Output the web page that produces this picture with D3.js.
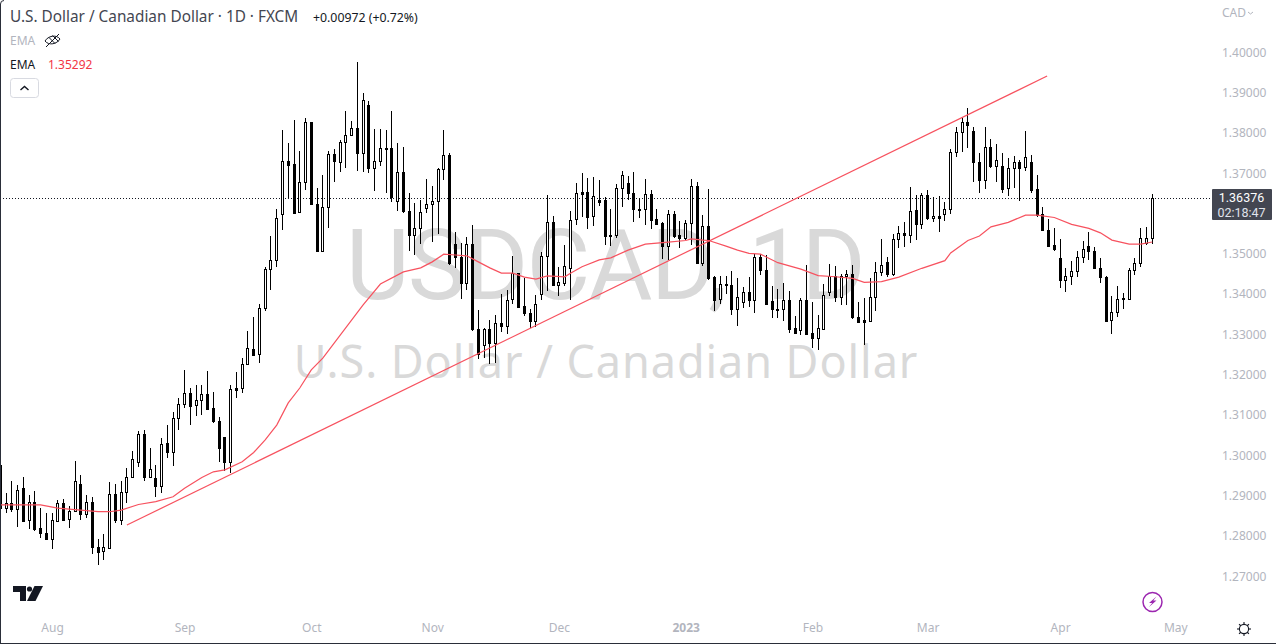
<!DOCTYPE html>
<html><head><meta charset="utf-8">
<script src="https://cdn.jsdelivr.net/npm/d3@7"></script>
<style>html,body{margin:0;padding:0;background:#fff;overflow:hidden}svg{display:block}text{font-family:"Noto Sans",Roboto,sans-serif}</style>
</head><body><svg id="c" width="1276" height="644"></svg>
<script>
const opens=[1.2976,1.2868,1.2881,1.2866,1.2918,1.2839,1.2883,1.2819,1.2806,1.2793,
1.2838,1.2881,1.2841,1.2863,1.2928,1.2854,1.2883,1.2772,1.2762,1.2771,
1.2903,1.2839,1.2908,1.2945,1.2983,1.3052,1.2947,1.2943,1.2923,1.3030,
1.3007,1.3092,1.3127,1.3154,1.3124,1.3136,1.3151,1.3117,1.3086,1.3045,
1.2984,1.3166,1.3166,1.3226,1.3263,1.3251,1.3365,1.3462,1.3484,1.3598,
1.3730,1.3722,1.3603,1.3677,1.3826,1.3623,1.3508,1.3615,1.3747,1.3727,
1.3777,1.3796,1.3811,1.3749,1.3868,1.3714,1.3730,1.3763,1.3762,1.3630,
1.3702,1.3605,1.3546,1.3563,1.3613,1.3623,1.3630,1.3710,1.3744,1.3524,
1.3491,1.3427,1.3524,1.3313,1.3273,1.3313,1.3278,1.3328,1.3322,1.3387,
1.3452,1.3370,1.3352,1.3334,1.3400,1.3494,1.3578,1.3422,1.3428,1.3464,
1.3586,1.3653,1.3653,1.3593,1.3633,1.3633,1.3546,1.3546,1.3663,1.3675,
1.3650,1.3611,1.3610,1.3648,1.3586,1.3576,1.3520,1.3598,1.3546,1.3540,
1.3576,1.3667,1.3476,1.3568,1.3442,1.3387,1.3424,1.3422,1.3362,1.3380,
1.3404,1.3385,1.3492,1.3461,1.3382,1.3363,1.3362,1.3385,1.3315,1.3310,
1.3385,1.3303,1.3290,1.3314,1.3404,1.3444,1.3392,1.3444,1.3449,1.3342,
1.3335,1.3334,1.3392,1.3454,1.3479,1.3449,1.3536,1.3551,1.3546,1.3608,
1.3573,1.3645,1.3590,1.3595,1.3598,1.3610,1.3752,1.3801,1.3826,1.3804,
1.3729,1.3682,1.3764,1.3719,1.3717,1.3663,1.3712,1.3729,1.3715,1.3729,
1.3660,1.3598,1.3558,1.3521,1.3489,1.3434,1.3444,1.3457,1.3491,1.3519,
1.3506,1.3464,1.3442,1.3335,1.3355,1.3388,1.3388,1.3459,1.3476,1.3527,1.3538];
const closes=[1.2868,1.2881,1.2866,1.2913,1.2838,1.2883,1.2818,1.2806,1.2793,1.2839,
1.2881,1.2840,1.2863,1.2936,1.2854,1.2883,1.2772,1.2761,1.2772,1.2903,
1.2839,1.2908,1.2945,1.2990,1.3052,1.2947,1.2965,1.2923,1.3027,1.3007,
1.3092,1.3127,1.3154,1.3123,1.3136,1.3151,1.3116,1.3086,1.3019,1.2984,
1.3164,1.3163,1.3227,1.3266,1.3250,1.3365,1.3462,1.3484,1.3588,1.3730,
1.3721,1.3602,1.3677,1.3826,1.3623,1.3508,1.3615,1.3747,1.3731,1.3777,
1.3796,1.3811,1.3749,1.3881,1.3714,1.3730,1.3762,1.3760,1.3642,1.3702,
1.3605,1.3546,1.3563,1.3603,1.3623,1.3630,1.3710,1.3744,1.3478,1.3491,
1.3427,1.3524,1.3313,1.3252,1.3313,1.3278,1.3328,1.3322,1.3385,1.3452,
1.3369,1.3352,1.3334,1.3375,1.3494,1.3578,1.3422,1.3429,1.3469,1.3585,
1.3650,1.3649,1.3592,1.3643,1.3629,1.3543,1.3543,1.3663,1.3695,1.3650,
1.3610,1.3610,1.3648,1.3585,1.3575,1.3520,1.3598,1.3544,1.3540,1.3576,
1.3667,1.3476,1.3568,1.3441,1.3386,1.3424,1.3422,1.3362,1.3392,1.3404,
1.3385,1.3491,1.3461,1.3375,1.3362,1.3361,1.3385,1.3314,1.3304,1.3385,
1.3302,1.3290,1.3315,1.3399,1.3444,1.3392,1.3444,1.3449,1.3342,1.3331,
1.3332,1.3392,1.3454,1.3471,1.3449,1.3536,1.3551,1.3546,1.3605,1.3573,
1.3645,1.3590,1.3595,1.3590,1.3610,1.3752,1.3801,1.3826,1.3820,1.3729,
1.3682,1.3764,1.3719,1.3732,1.3662,1.3712,1.3729,1.3714,1.3739,1.3659,
1.3596,1.3558,1.3520,1.3513,1.3434,1.3444,1.3457,1.3491,1.3511,1.3506,
1.3464,1.3442,1.3334,1.3355,1.3389,1.3390,1.3459,1.3476,1.3538,1.3538,1.36376];
const highs=[1.2976,1.2906,1.2935,1.2926,1.2945,1.2901,1.2911,1.2868,1.2856,1.2856,
1.2888,1.2891,1.2875,1.2986,1.2950,1.2901,1.2897,1.2792,1.2805,1.2934,
1.2928,1.2936,1.2969,1.3011,1.3060,1.3062,1.3017,1.2975,1.3042,1.3074,
1.3107,1.3141,1.3212,1.3168,1.3174,1.3174,1.3210,1.3158,1.3094,1.3046,
1.3174,1.3206,1.3241,1.3309,1.3343,1.3376,1.3468,1.3544,1.3611,1.3807,
1.3775,1.3832,1.3754,1.3836,1.3827,1.3663,1.3695,1.3754,1.3760,1.3782,
1.3854,1.3830,1.3976,1.3898,1.3878,1.3809,1.3809,1.3807,1.3854,1.3774,
1.3764,1.3650,1.3625,1.3633,1.3685,1.3667,1.3712,1.3806,1.3749,1.3553,
1.3526,1.3541,1.3572,1.3361,1.3315,1.3336,1.3348,1.3400,1.3410,1.3494,
1.3453,1.3439,1.3362,1.3397,1.3505,1.3646,1.3594,1.3468,1.3522,1.3606,
1.3675,1.3700,1.3687,1.3690,1.3683,1.3642,1.3610,1.3673,1.3705,1.3693,
1.3702,1.3638,1.3686,1.3658,1.3610,1.3580,1.3609,1.3605,1.3581,1.3584,
1.3686,1.3679,1.3596,1.3662,1.3445,1.3444,1.3444,1.3457,1.3439,1.3417,
1.3442,1.3500,1.3500,1.3497,1.3420,1.3412,1.3427,1.3408,1.3346,1.3390,
1.3472,1.3380,1.3347,1.3425,1.3474,1.3470,1.3450,1.3461,1.3472,1.3380,
1.3390,1.3439,1.3479,1.3536,1.3493,1.3549,1.3569,1.3580,1.3665,1.3646,
1.3650,1.3658,1.3640,1.3643,1.3628,1.3759,1.3814,1.3836,1.3861,1.3814,
1.3749,1.3814,1.3786,1.3772,1.3749,1.3737,1.3743,1.3733,1.3804,1.3745,
1.3695,1.3615,1.3586,1.3564,1.3536,1.3466,1.3481,1.3508,1.3532,1.3554,
1.3516,1.3489,1.3446,1.3395,1.3419,1.3402,1.3464,1.3489,1.3564,1.3566,1.3648];
const lows=[1.2856,1.2856,1.2860,1.2823,1.2835,1.2818,1.2811,1.2796,1.2791,1.2768,
1.2835,1.2839,1.2820,1.2862,1.2840,1.2845,1.2754,1.2729,1.2740,1.2769,
1.2833,1.2828,1.2882,1.2944,1.2972,1.2935,1.2946,1.2897,1.2906,1.2993,
1.2974,1.3063,1.3117,1.3075,1.3098,1.3100,1.3112,1.3079,1.2984,1.2962,
1.2955,1.3141,1.3155,1.3224,1.3249,1.3228,1.3359,1.3410,1.3468,1.3560,
1.3639,1.3601,1.3602,1.3659,1.3622,1.3504,1.3505,1.3565,1.3677,1.3704,
1.3714,1.3795,1.3706,1.3704,1.3700,1.3657,1.3718,1.3652,1.3629,1.3606,
1.3602,1.3508,1.3496,1.3525,1.3600,1.3530,1.3548,1.3684,1.3471,1.3466,
1.3389,1.3411,1.3309,1.3238,1.3241,1.3227,1.3228,1.3306,1.3301,1.3376,
1.3366,1.3346,1.3316,1.3319,1.3386,1.3408,1.3420,1.3395,1.3420,1.3385,
1.3572,1.3591,1.3562,1.3569,1.3619,1.3521,1.3519,1.3539,1.3617,1.3634,
1.3580,1.3588,1.3572,1.3562,1.3572,1.3486,1.3485,1.3540,1.3515,1.3534,
1.3522,1.3475,1.3470,1.3435,1.3359,1.3375,1.3400,1.3347,1.3322,1.3365,
1.3367,1.3352,1.3448,1.3373,1.3340,1.3340,1.3334,1.3304,1.3301,1.3299,
1.3299,1.3267,1.3261,1.3311,1.3395,1.3381,1.3373,1.3373,1.3337,1.3328,
1.3274,1.3332,1.3359,1.3446,1.3443,1.3445,1.3515,1.3518,1.3526,1.3534,
1.3561,1.3584,1.3580,1.3555,1.3582,1.3599,1.3739,1.3753,1.3762,1.3677,
1.3652,1.3662,1.3714,1.3679,1.3652,1.3644,1.3663,1.3632,1.3706,1.3650,
1.3592,1.3557,1.3518,1.3508,1.3414,1.3406,1.3423,1.3442,1.3478,1.3485,
1.3462,1.3428,1.3333,1.3301,1.3344,1.3362,1.3385,1.3448,1.3468,1.3523,1.3525];
const emaBars=[0,7,10,17,19,21,24,27,30,32,35,37,39,42,44,46,48,50,52,54,56,63,66,70,73,75,77,79,81,83,85,87,89,91,93,95,98,99,101,104,106,109,112,116,119,120,122,123,126,128,130,132,135,139,142,145,148,150,153,156,160,164,165,168,170,172,175,178,180,183,186,189,191,193,196,198,200];
const emaValues=[1.2877,1.2877,1.2869,1.2860,1.2860,1.2864,1.2878,1.2885,1.2897,1.2918,1.2945,1.2959,1.2964,1.2984,1.3007,1.3038,1.3075,1.3130,1.3167,1.3212,1.3241,1.3373,1.3425,1.3455,1.3465,1.3480,1.3499,1.3497,1.3495,1.3480,1.3465,1.3452,1.3452,1.3442,1.3437,1.3445,1.3443,1.3452,1.3468,1.3485,1.3490,1.3509,1.3524,1.3529,1.3533,1.3537,1.3534,1.3533,1.3519,1.3509,1.3501,1.3499,1.3478,1.3462,1.3446,1.3443,1.3439,1.3429,1.3431,1.3442,1.3464,1.3483,1.3502,1.3533,1.3544,1.3567,1.3578,1.3596,1.3596,1.3590,1.3573,1.3563,1.3552,1.3534,1.3524,1.3524,1.35292];
const trendBars=[22,181.75];
const trendValues=[1.2827,1.3941];
const priceTicks=[1.27,1.28,1.29,1.30,1.31,1.32,1.33,1.34,1.35,1.37,1.38,1.39,1.40];
const timeTickBars=[9,32,54,75,97,119,141,161,184,204];
const timeTickLabels=["Aug","Sep","Oct","Nov","Dec","2023","Feb","Mar","Apr","May"];
const lastPrice=1.36376;
const FONT='"Noto Sans",Roboto,sans-serif';

const svg=d3.select("#c");
const x=d3.scaleLinear().domain([0,200]).range([0.24,1152.24]);
const y=d3.scaleLinear().domain([1.27,1.40]).range([576.2,52.3]);
const px=i=>Math.floor(x(i));
const py=v=>Math.round(y(v));
svg.append("defs").append("clipPath").attr("id","plot").append("rect").attr("width",1212).attr("height",614);

// watermark
const wm=svg.append("g").attr("fill","#d9d9d9").attr("text-anchor","middle");
wm.append("text").attr("x",605).attr("y",299).attr("font-size",98).attr("letter-spacing",-1.8).style("font-family","Roboto,sans-serif").text("USDCAD, 1D");
wm.append("text").attr("x",606).attr("y",378).attr("font-size",45).attr("letter-spacing",0.93).text("U.S. Dollar / Canadian Dollar");

const plot=svg.append("g").attr("clip-path","url(#plot)");
plot.append("line").attr("x1",0).attr("x2",1212).attr("y1",py(lastPrice)+.5).attr("y2",py(lastPrice)+.5)
  .attr("stroke","#131722").attr("stroke-dasharray","1 2");

const bars=d3.range(opens.length);
const candles=plot.append("g").selectAll("g").data(bars).join("g");
candles.append("rect").attr("x",px).attr("width",1).attr("y",i=>py(highs[i])).attr("height",i=>Math.max(1,py(lows[i])-py(highs[i]))).attr("fill","#000");
candles.append("rect").each(function(i){
  const up=closes[i]>=opens[i];
  const t=py(Math.max(opens[i],closes[i])),b=py(Math.min(opens[i],closes[i]));
  const s=d3.select(this);
  if(up){s.attr("x",px(i)-.5).attr("width",2).attr("y",t+.5).attr("height",Math.max(1,b-t)).attr("fill","#fff").attr("stroke","#000");}
  else{s.attr("x",px(i)-1).attr("width",3).attr("y",t).attr("height",Math.max(2,b-t+1)).attr("fill","#000");}
});
const emaLine=d3.line().x(d=>x(d[0])).y(d=>y(d[1]));
plot.append("path").attr("d",emaLine(d3.zip(emaBars,emaValues))).attr("fill","none").attr("stroke","#f7525f").attr("stroke-width",1.2);
plot.append("path").attr("d",emaLine(d3.zip(trendBars,trendValues))).attr("fill","none").attr("stroke","#f7525f").attr("stroke-width",1.2);

// price axis
const yAxis=svg.append("g").attr("transform","translate(1212,0)").call(d3.axisRight(y).tickValues(priceTicks).tickSize(0).tickPadding(10).tickFormat(d3.format(".5f")));
yAxis.select(".domain").remove();
yAxis.selectAll("text").attr("fill","#b2b5be").attr("font-size",12).style("font-family",FONT);

// time axis
const xAxis=svg.append("g").attr("transform","translate(0,623)").call(d3.axisBottom(x).tickValues(timeTickBars).tickSize(0).tickPadding(0).tickFormat((d,i)=>timeTickLabels[i]));
xAxis.select(".domain").remove();
xAxis.selectAll("text").attr("fill","#b2b5be").attr("font-size",12).style("font-family",FONT);
xAxis.selectAll("text").filter((d,i)=>timeTickLabels[i]==="2023").attr("font-weight",700);

// last price label
const ly=py(lastPrice);
svg.append("rect").attr("x",1212).attr("y",ly-9).attr("width",60).attr("height",31).attr("rx",1).attr("fill","#434651");
svg.append("text").attr("x",1241.5).attr("y",ly+3.5).attr("text-anchor","middle").attr("fill","#fff").attr("font-size",12.5).style("font-family","Roboto,sans-serif").text(d3.format(".5f")(lastPrice));
svg.append("text").attr("x",1241.5).attr("y",ly+18.5).attr("text-anchor","middle").attr("fill","#e0e3eb").attr("font-size",12.5).style("font-family","Roboto,sans-serif").text("02:18:47");

// CAD
svg.append("text").attr("x",1222).attr("y",17).attr("fill","#b2b5be").attr("font-size",12).text("CAD");
svg.append("path").attr("d","M1248 12l2.5 2 2.5-2").attr("fill","none").attr("stroke","#b2b5be");

// legend
const H=svg.append("g");
H.append("text").attr("x",10).attr("y",22).attr("fill","#434651").attr("font-size",15.35).text("U.S. Dollar / Canadian Dollar · 1D · FXCM");
H.append("text").attr("x",313).attr("y",22).attr("fill","#131722").attr("font-size",12.3).text("+0.00972 (+0.72%)");
H.append("text").attr("x",10).attr("y",45).attr("fill","#b2b5be").attr("font-size",12).text("EMA");
H.append("text").attr("x",10).attr("y",69).attr("fill","#131722").attr("font-size",12).text("EMA");
H.append("text").attr("x",48).attr("y",69).attr("fill","#f23645").attr("font-size",12).text("1.35292");
H.append("path").attr("d","M45 41c3-5 11-7 15-2c-3 5-11 7-15 2zM49 37.5l6 6M52.5 35.5l6 6M46 47L59 34").attr("fill","none").attr("stroke","#131722").attr("stroke-width",1);
H.append("rect").attr("x",10.5).attr("y",78.5).attr("width",28).attr("height",19).attr("rx",3).attr("fill","#fff").attr("stroke","#d8dae1");
H.append("path").attr("d","M20.5 90l4-3.5 4 3.5").attr("fill","none").attr("stroke","#131722").attr("stroke-width",1.4);

// logo
const L=svg.append("g").attr("fill","#131722");
L.append("path").attr("d","M13 586h13v15h-6v-9h-7z");
L.append("circle").attr("cx",29.5).attr("cy",589).attr("r",2.6);
L.append("path").attr("d","M34.5 586h8.5l-7.5 15h-8.5z");

// lightning
svg.append("circle").attr("cx",1152.5).attr("cy",602).attr("r",9.5).attr("fill","#fff").attr("stroke","#9c27b0").attr("stroke-width",1.5);
svg.append("path").attr("d","M1156.5 596.5l-7.5 6.5h3.2l-3.2 4 7.5-6.5h-3.2z").attr("fill","#9c27b0");

// gear
const g=svg.append("g").attr("transform","translate(1244,629)").attr("stroke","#131722").attr("fill","none");
g.append("circle").attr("r",4.6).attr("stroke-width",1.1);
d3.range(8).forEach(k=>{const a=k*Math.PI/4;g.append("line").attr("x1",4.6*Math.cos(a)).attr("y1",4.6*Math.sin(a)).attr("x2",7*Math.cos(a)).attr("y2",7*Math.sin(a)).attr("stroke-width",1.1);});

// frame
svg.append("path").attr("d","M.5 644V4a3.5 3.5 0 0 1 3.5-3.5").attr("fill","none").attr("stroke","#2a2e39");
svg.append("line").attr("x1",0).attr("x2",1276).attr("y1",643.5).attr("y2",643.5).attr("stroke","#2a2e39");
</script></body></html>
